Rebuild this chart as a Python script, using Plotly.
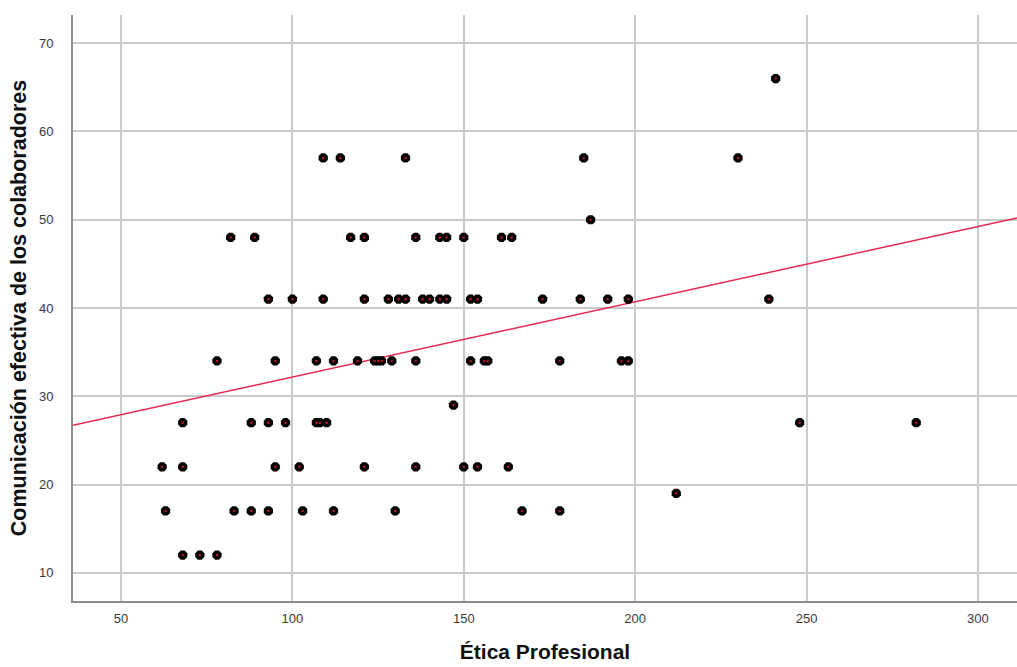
import numpy as np
import plotly.graph_objects as go

# Data: Comunicación efectiva (y) vs Ética Profesional (x), grouped by y level
etica_66 = [241]
etica_57 = [109, 114, 133, 185, 230]
etica_50 = [187]
etica_48 = [82, 89, 117, 121, 136, 143, 145, 150, 161, 164]
etica_41 = [93, 100, 109, 121, 128, 131, 133, 138, 140, 143, 145, 152, 154, 173, 184, 192, 198, 239]
etica_34 = [78, 95, 107, 112, 119, 124, 125, 126, 129, 136, 152, 156, 157, 178, 196, 198]
etica_29 = [147]
etica_27 = [68, 88, 93, 98, 107, 108, 110, 248, 282]
etica_22 = [62, 68, 95, 102, 121, 136, 150, 154, 163]
etica_19 = [212]
etica_17 = [63, 83, 88, 93, 103, 112, 130, 167, 178]
etica_12 = [68, 73, 78]

groups = {66: etica_66, 57: etica_57, 50: etica_50, 48: etica_48, 41: etica_41,
          34: etica_34, 29: etica_29, 27: etica_27, 22: etica_22, 19: etica_19,
          17: etica_17, 12: etica_12}

# Linear fit line as displayed (intercept, slope)
fit_intercept = 23.64
fit_slope = 0.0853

x_ticks = [50, 100, 150, 200, 250, 300]
y_ticks = [10, 20, 30, 40, 50, 60, 70]
x_range = [36, 311.4]
y_range = [6.8, 73.2]

x_vals = []
y_vals = []
for yv, xs in groups.items():
    x_vals += xs
    y_vals += [yv] * len(xs)

line_x = np.array(x_range)
line_y = fit_intercept + fit_slope * line_x

fig = go.Figure()
fig.add_trace(go.Scatter(x=line_x, y=line_y, mode="lines",
                         line=dict(color="#e8294f", width=1.5),
                         hoverinfo="skip", showlegend=False))
fig.add_trace(go.Scatter(x=x_vals, y=y_vals, mode="markers",
                         marker=dict(symbol="octagon", size=10, color="#000000",
                                     line=dict(width=0)),
                         showlegend=False))
fig.add_trace(go.Scatter(x=x_vals, y=y_vals, mode="markers",
                         marker=dict(symbol="circle", size=2.5, color="#c0102a",
                                     line=dict(width=0)),
                         showlegend=False, hoverinfo="skip"))

axis_common = dict(showgrid=True, gridcolor="#cacaca", gridwidth=1.5,
                   zeroline=False, ticks="", showline=True,
                   linecolor="#8c8c8c", linewidth=2)

fig.update_layout(
    width=1017, height=667,
    margin=dict(l=73, r=0, t=15, b=66),
    paper_bgcolor="white", plot_bgcolor="white",
    font=dict(family="Liberation Sans, Arial, sans-serif", color="#333333"),
    xaxis=dict(range=x_range, tickvals=x_ticks, ticklabelstandoff=4,
               tickfont=dict(size=13, color="#3a3a3a"),
               title=dict(text="<b>Ética Profesional</b>", standoff=20,
                          font=dict(size=21, color="#111111")),
               **axis_common),
    yaxis=dict(range=y_range, tickvals=y_ticks, ticklabelstandoff=15,
               tickfont=dict(size=13, color="#3a3a3a"),
               title=dict(text="<b>Comunicación efectiva de los colaboradores</b>", standoff=6,
                          font=dict(size=21.5, color="#111111")),
               **axis_common),
)

fig.write_html("out.html", config={"displayModeBar": False},
               post_script="document.body.style.margin='0';document.body.style.overflow='hidden';")
